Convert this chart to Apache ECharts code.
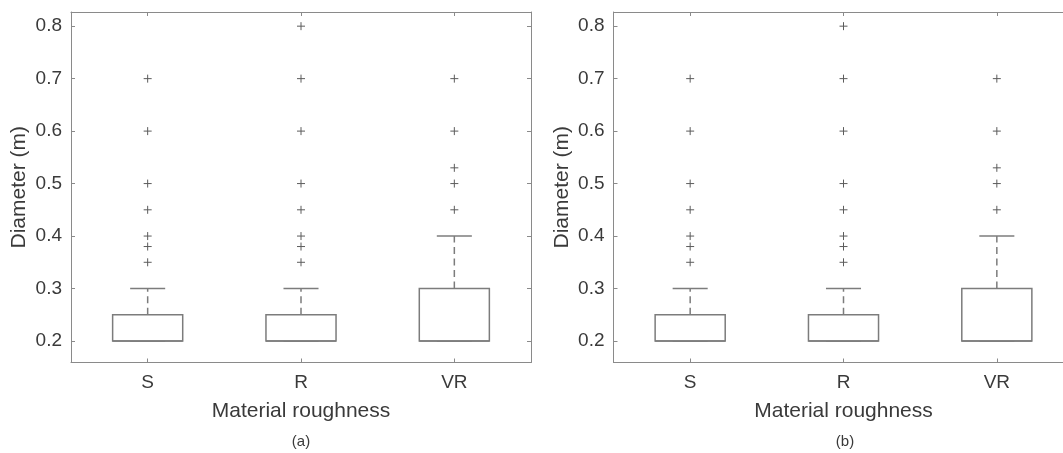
<!DOCTYPE html>
<html>
<head>
<meta charset="utf-8">
<script src="https://cdn.jsdelivr.net/npm/echarts@6/dist/echarts.min.js"></script>
<style>
html,body{margin:0;padding:0;background:#fff;}
#chart{width:1063px;height:453px;}
</style>
</head>
<body>
<div id="chart"></div>
<script>
// ---- data ----
const categories = ['S', 'R', 'VR'];
const whiskerLow = [0.2, 0.2, 0.2];
const q1Values = [0.2, 0.2, 0.2];
const medianValues = [0.2, 0.2, 0.2];
const q3Values = [0.25, 0.25, 0.3];
const whiskerHigh = [0.3, 0.3, 0.4];
const outliersS = [0.35, 0.38, 0.4, 0.45, 0.5, 0.6, 0.7];
const outliersR = [0.35, 0.38, 0.4, 0.45, 0.5, 0.6, 0.7, 0.8];
const outliersVR = [0.45, 0.5, 0.53, 0.6, 0.7];
const yTicks = [0.2, 0.3, 0.4, 0.5, 0.6, 0.7, 0.8];
const panelLabels = ['(a)', '(b)'];
const xAxisName = 'Material roughness';
const yAxisName = 'Diameter (m)';

// ---- styles ----
const FONT = '"Liberation Sans", Arial, Helvetica, sans-serif';
const frameColor = '#8a8a8a';
const boxColor = '#7c7c7c';
const plusColor = '#5c5c5c';
const textColor = '#3a3a3a';
const Y_MIN = 0.159, Y_MAX = 0.827;

const boxRows = categories.map((c, i) => [i, whiskerLow[i], q1Values[i], medianValues[i], q3Values[i], whiskerHigh[i]]);
const outlierLists = [outliersS, outliersR, outliersVR];
const outlierRows = [];
outlierLists.forEach((arr, i) => arr.forEach(v => outlierRows.push([i, v])));

const chart = echarts.init(document.getElementById('chart'), null, {renderer: 'canvas'});

const grids = [
  {left: 71, top: 12, width: 460, height: 350.5, outerBoundsMode: 'none', containLabel: false},
  {left: 613.5, top: 12, width: 460, height: 350.5, outerBoundsMode: 'none', containLabel: false}
];

function xAx(g, pos, main) {
  return {
    type: 'category', gridIndex: g, position: pos, data: categories, boundaryGap: true,
    axisLine: {show: true, onZero: false, lineStyle: {color: frameColor, width: 1}},
    axisTick: {show: true, inside: true, length: 4, alignWithLabel: true, lineStyle: {color: frameColor}},
    axisLabel: {show: main, margin: 11, fontSize: 19, color: textColor, fontFamily: FONT},
    splitLine: {show: false},
    name: main ? xAxisName : '', nameLocation: 'middle', nameGap: 38,
    nameTextStyle: {fontSize: 21, color: textColor, fontFamily: FONT}
  };
}
function yAx(g, pos, main) {
  return {
    type: 'value', gridIndex: g, position: pos, min: Y_MIN, max: Y_MAX,
    axisLine: {show: true, onZero: false, lineStyle: {color: frameColor, width: 1}},
    axisTick: {show: true, inside: true, length: 4, customValues: yTicks, lineStyle: {color: frameColor}},
    axisLabel: {show: main, customValues: yTicks, formatter: v => v.toFixed(1), margin: 9, fontSize: 19, color: textColor, fontFamily: FONT},
    splitLine: {show: false},
    name: main ? yAxisName : '', nameLocation: 'middle', nameGap: 41,
    nameTextStyle: {fontSize: 21, color: textColor, fontFamily: FONT}
  };
}

function renderBox(params, api) {
  const i = api.value(0);
  const lo = api.coord([i, api.value(1)]);
  const q1 = api.coord([i, api.value(2)]);
  const md = api.coord([i, api.value(3)]);
  const q3 = api.coord([i, api.value(4)]);
  const hi = api.coord([i, api.value(5)]);
  const band = api.size([1, 0])[0];
  const bw = band * 0.457;
  const cw = bw / 2;
  const x = q1[0];
  const solid = {stroke: boxColor, lineWidth: 1.5, fill: null};
  const dashed = {stroke: boxColor, lineWidth: 1.5, lineDash: [7, 4.5]};
  const children = [];
  if (hi[1] < q3[1]) {
    children.push({type: 'line', shape: {x1: x, y1: q3[1], x2: x, y2: hi[1]}, style: dashed});
  }
  if (lo[1] > q1[1]) {
    children.push({type: 'line', shape: {x1: x, y1: q1[1], x2: x, y2: lo[1]}, style: dashed});
  }
  children.push({type: 'line', shape: {x1: x - cw / 2, y1: hi[1], x2: x + cw / 2, y2: hi[1]}, style: solid});
  children.push({type: 'line', shape: {x1: x - cw / 2, y1: lo[1], x2: x + cw / 2, y2: lo[1]}, style: solid});
  children.push({type: 'rect', shape: {x: x - bw / 2, y: q3[1], width: bw, height: q1[1] - q3[1]}, style: {stroke: boxColor, lineWidth: 1.5, fill: '#fff'}});
  children.push({type: 'line', shape: {x1: x - bw / 2, y1: md[1], x2: x + bw / 2, y2: md[1]}, style: solid});
  return {type: 'group', children: children};
}

function renderPlus(params, api) {
  const p = api.coord([api.value(0), api.value(1)]);
  const h = 4;
  const st = {stroke: plusColor, lineWidth: 1};
  return {type: 'group', children: [
    {type: 'line', shape: {x1: p[0] - h, y1: p[1], x2: p[0] + h, y2: p[1]}, style: st},
    {type: 'line', shape: {x1: p[0], y1: p[1] - h, x2: p[0], y2: p[1] + h}, style: st}
  ]};
}

const series = [];
[0, 1].forEach(g => {
  series.push({type: 'custom', xAxisIndex: g * 2, yAxisIndex: g * 2, data: boxRows, renderItem: renderBox,
    encode: {x: 0, y: [1, 2, 3, 4, 5]}, silent: true, z: 2});
  series.push({type: 'custom', xAxisIndex: g * 2, yAxisIndex: g * 2, data: outlierRows, renderItem: renderPlus,
    encode: {x: 0, y: 1}, silent: true, z: 3});
});

const option = {
  backgroundColor: '#fff',
  animation: false,
  grid: grids,
  xAxis: [xAx(0, 'bottom', true), xAx(0, 'top', false), xAx(1, 'bottom', true), xAx(1, 'top', false)],
  yAxis: [yAx(0, 'left', true), yAx(0, 'right', false), yAx(1, 'left', true), yAx(1, 'right', false)],
  series: series,
  graphic: [
    {type: 'text', x: 301, y: 442, style: {text: panelLabels[0], align: 'center', verticalAlign: 'middle', fontSize: 15, fontFamily: FONT, fill: textColor}},
    {type: 'text', x: 845, y: 442, style: {text: panelLabels[1], align: 'center', verticalAlign: 'middle', fontSize: 15, fontFamily: FONT, fill: textColor}}
  ]
};
chart.setOption(option);
</script>
</body>
</html>
